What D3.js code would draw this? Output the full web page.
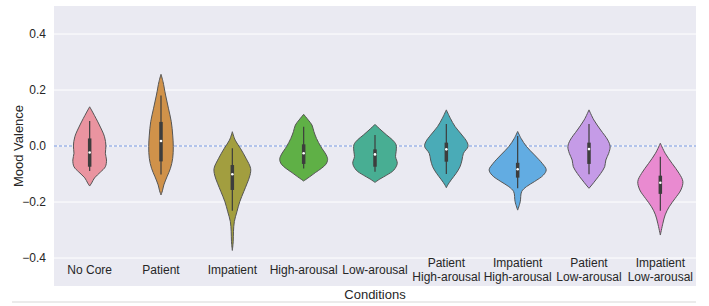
<!DOCTYPE html>
<html>
<head>
<meta charset="utf-8">
<script src="https://cdn.jsdelivr.net/npm/d3@7"></script>
<style>
  body { margin: 0; background: #fff; }
  text { font-family: "Liberation Sans", Arial, sans-serif; fill: #262626; }
</style>
</head>
<body>
<div id="chart"></div>
<script>
// Conditions along the x axis (multi-line labels split on "\n")
const categories = [
  'No Core', 'Patient', 'Impatient', 'High-arousal', 'Low-arousal',
  'Patient\nHigh-arousal', 'Impatient\nHigh-arousal', 'Patient\nLow-arousal', 'Impatient\nLow-arousal'
];
const colors = ['#ea94a0', '#d0924a', '#a29e3f', '#5fb046', '#48ae93', '#4aabb7', '#62ace2', '#c59be7', '#e98ad0'];

// Violin outlines: [mood valence, relative density]
const noCore = [[0.140, 0], [0.118, 0.12], [0.075, 0.34], [0.033, 0.52], [0.0, 0.57], [-0.026, 0.55], [-0.05, 0.59], [-0.074, 0.55], [-0.093, 0.38], [-0.114, 0.17], [-0.132, 0.07], [-0.143, 0]];
const patient = [[0.256, 0], [0.23, 0.07], [0.182, 0.16], [0.135, 0.26], [0.087, 0.36], [0.039, 0.41], [-0.002, 0.43], [-0.044, 0.41], [-0.08, 0.33], [-0.11, 0.21], [-0.139, 0.10], [-0.16, 0.05], [-0.175, 0]];
const impatient = [[0.051, 0], [0.021, 0.10], [-0.008, 0.28], [-0.044, 0.48], [-0.08, 0.64], [-0.104, 0.62], [-0.133, 0.52], [-0.163, 0.40], [-0.199, 0.26], [-0.235, 0.16], [-0.27, 0.07], [-0.306, 0.04], [-0.342, 0.03], [-0.373, 0]];
const highArousal = [[0.113, 0], [0.093, 0.16], [0.075, 0.29], [0.051, 0.36], [0.027, 0.45], [-0.002, 0.60], [-0.032, 0.79], [-0.048, 0.84], [-0.065, 0.78], [-0.08, 0.62], [-0.095, 0.41], [-0.11, 0.21], [-0.125, 0]];
const lowArousal = [[0.077, 0], [0.057, 0.21], [0.039, 0.41], [0.021, 0.62], [0.004, 0.74], [-0.02, 0.74], [-0.038, 0.72], [-0.062, 0.78], [-0.086, 0.66], [-0.104, 0.41], [-0.118, 0.17], [-0.13, 0]];
const patientHigh = [[0.129, 0], [0.099, 0.14], [0.069, 0.31], [0.039, 0.55], [0.015, 0.72], [-0.002, 0.76], [-0.026, 0.60], [-0.05, 0.55], [-0.074, 0.48], [-0.098, 0.34], [-0.121, 0.17], [-0.139, 0.05], [-0.149, 0]];
const impatientHigh = [[0.052, 0], [0.027, 0.12], [-0.002, 0.31], [-0.032, 0.59], [-0.062, 0.86], [-0.085, 1.0], [-0.104, 0.90], [-0.127, 0.59], [-0.145, 0.31], [-0.163, 0.14], [-0.199, 0.09], [-0.229, 0]];
const patientLow = [[0.129, 0], [0.093, 0.17], [0.057, 0.41], [0.021, 0.66], [-0.002, 0.74], [-0.026, 0.69], [-0.05, 0.59], [-0.074, 0.55], [-0.098, 0.41], [-0.121, 0.24], [-0.139, 0.10], [-0.151, 0]];
const impatientLow = [[0.01, 0], [-0.026, 0.17], [-0.062, 0.41], [-0.098, 0.66], [-0.127, 0.79], [-0.157, 0.72], [-0.187, 0.52], [-0.217, 0.31], [-0.246, 0.17], [-0.276, 0.09], [-0.318, 0]];
const profiles = [noCore, patient, impatient, highArousal, lowArousal, patientHigh, impatientHigh, patientLow, impatientLow];

// Inner box plots: whisker ends, quartiles, median
const whiskerLow = [-0.089, -0.102, -0.231, -0.080, -0.092, -0.100, -0.151, -0.101, -0.231];
const q1 = [-0.074, -0.055, -0.157, -0.064, -0.074, -0.056, -0.113, -0.064, -0.171];
const medians = [-0.023, 0.018, -0.101, -0.026, -0.030, -0.012, -0.083, -0.011, -0.131];
const q3 = [0.027, 0.086, -0.068, 0.006, -0.012, 0.012, -0.060, 0.012, -0.106];
const whiskerHigh = [0.089, 0.180, -0.008, 0.069, 0.039, 0.079, 0.036, 0.079, -0.038];

const yTicks = [-0.4, -0.2, 0.0, 0.2, 0.4];

const width = 709, height = 306;
const margin = { top: 6, right: 13, bottom: 20, left: 54 };
const plotBottom = 286;

const svg = d3.select('#chart').append('svg')
    .attr('width', width)
    .attr('height', height);

const x = d3.scaleBand()
    .domain(categories)
    .range([margin.left, width - margin.right])
    .padding(0);

const y = d3.scaleLinear()
    .domain([-0.5, 0.5])
    .range([plotBottom, margin.top]);

const w = d3.scaleLinear()
    .domain([0, 1])
    .range([0, x.bandwidth() * 0.4]);

// background
svg.append('rect')
    .attr('x', margin.left)
    .attr('y', margin.top)
    .attr('width', x.range()[1] - margin.left)
    .attr('height', plotBottom - margin.top)
    .attr('fill', '#eaeaf2');

// grid lines
svg.append('g')
    .selectAll('line')
    .data(yTicks)
    .join('line')
    .attr('x1', margin.left)
    .attr('x2', x.range()[1])
    .attr('y1', d => y(d))
    .attr('y2', d => y(d))
    .attr('stroke', '#fff')
    .attr('stroke-width', 1);

// y axis tick labels
const yAxis = svg.append('g')
    .attr('transform', `translate(${margin.left},0)`)
    .call(d3.axisLeft(y).tickValues(yTicks).tickSize(0).tickPadding(8).tickFormat(d3.format('.1f')));
yAxis.select('.domain').remove();
yAxis.selectAll('text')
    .style('font-size', '12px')
    .style('font-family', '"Liberation Sans", Arial, sans-serif')
    .attr('fill', '#262626');

// x axis labels (custom for two-line labels)
const xAxis = svg.append('g')
    .attr('transform', `translate(0,${plotBottom})`)
    .call(d3.axisBottom(x).tickSize(0).tickFormat(''));
xAxis.select('.domain').remove();
xAxis.selectAll('.tick').each(function(d) {
    const lines = d.split('\n');
    const t = d3.select(this).append('text')
        .attr('text-anchor', 'middle')
        .style('font-size', '12px')
        .attr('fill', '#262626');
    const firstY = lines.length === 1 ? -12 : -19;
    lines.forEach((ln, i) => {
        t.append('tspan')
            .attr('x', 0)
            .attr('y', firstY + i * 14)
            .text(ln);
    });
});

// zero reference line
svg.append('line')
    .attr('x1', margin.left)
    .attr('x2', x.range()[1])
    .attr('y1', y(0))
    .attr('y2', y(0))
    .attr('stroke', '#5b82d9')
    .attr('stroke-opacity', 0.85)
    .attr('stroke-width', 1)
    .attr('stroke-dasharray', '3,2');

// violins
const violins = svg.append('g');
categories.forEach((cat, i) => {
    const cx = x(cat) + x.bandwidth() / 2;
    const area = d3.area()
        .y(d => y(d[0]))
        .x0(d => cx - w(d[1]))
        .x1(d => cx + w(d[1]))
        .curve(d3.curveCatmullRom.alpha(0.5));

    violins.append('path')
        .datum(profiles[i])
        .attr('d', area)
        .attr('fill', colors[i])
        .attr('stroke', '#555')
        .attr('stroke-width', 1)
        .attr('stroke-linejoin', 'round');

    // whiskers
    violins.append('line')
        .attr('x1', cx).attr('x2', cx)
        .attr('y1', y(whiskerLow[i])).attr('y2', y(whiskerHigh[i]))
        .attr('stroke', '#3d3d3d')
        .attr('stroke-width', 1.2);

    // quartile box
    violins.append('line')
        .attr('x1', cx).attr('x2', cx)
        .attr('y1', y(q1[i])).attr('y2', y(q3[i]))
        .attr('stroke', '#3d3d3d')
        .attr('stroke-width', 3.5);

    // median
    violins.append('circle')
        .attr('cx', cx)
        .attr('cy', y(medians[i]))
        .attr('r', 1.3)
        .attr('fill', '#fff');
});

// axis titles
svg.append('text')
    .attr('x', x.range()[0] + (x.range()[1] - x.range()[0]) / 2)
    .attr('y', 299)
    .attr('text-anchor', 'middle')
    .style('font-size', '13px')
    .text('Conditions');

svg.append('text')
    .attr('transform', `translate(23,${y(0)}) rotate(-90)`)
    .attr('text-anchor', 'middle')
    .style('font-size', '13px')
    .text('Mood Valence');

// light rule at the bottom of the figure
svg.append('line')
    .attr('x1', 12)
    .attr('x2', x.range()[1])
    .attr('y1', 302)
    .attr('y2', 302)
    .attr('stroke', '#e4e4e4')
    .attr('stroke-width', 1.5);
</script>
</body>
</html>
